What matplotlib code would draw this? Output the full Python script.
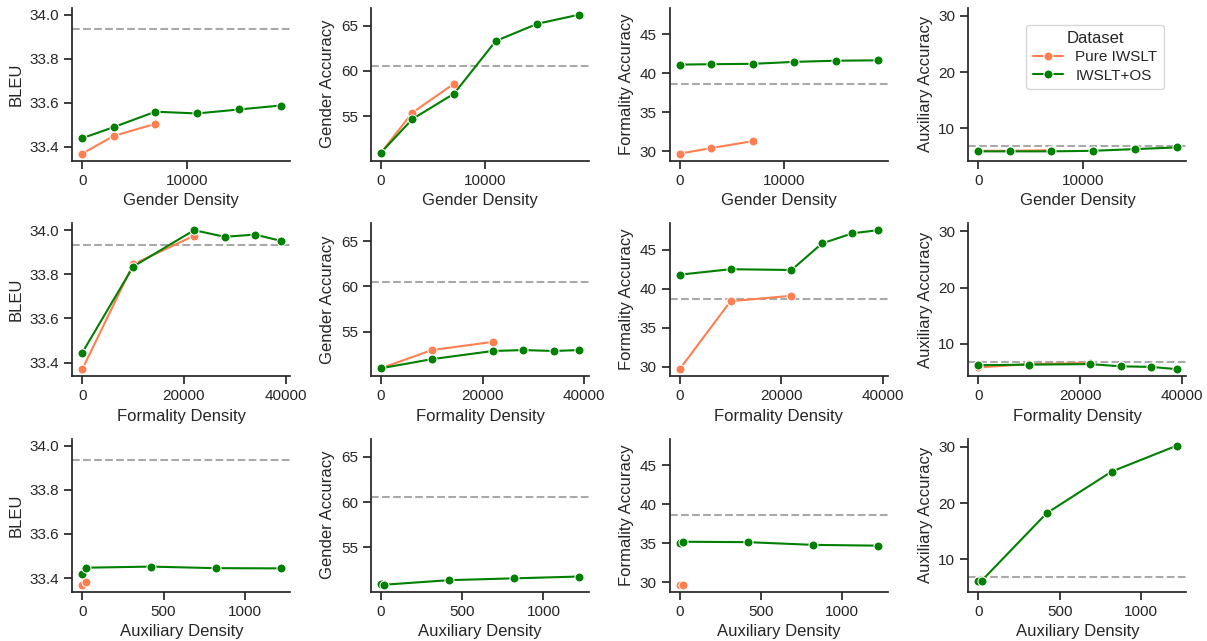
import matplotlib
matplotlib.use('Agg')
import matplotlib.pyplot as plt
import seaborn as sns

# x positions (densities) per row
gender_x_pure = [0, 3000, 7000]
gender_x_os = [0, 3000, 7000, 11000, 15000, 19000]
form_x_pure = [0, 10000, 22000]
form_x_os = [0, 10000, 22000, 28000, 34000, 39000]
aux_x_pure = [0, 20]
aux_x_os = [0, 20, 420, 820, 1220]

# BLEU
bleu_gender_pure = [33.37, 33.45, 33.505]
bleu_gender_os = [33.44, 33.49, 33.56, 33.552, 33.57, 33.588]
bleu_form_pure = [33.37, 33.845, 33.975]
bleu_form_os = [33.445, 33.835, 34.0, 33.97, 33.98, 33.952]
bleu_aux_pure = [33.37, 33.38]
bleu_aux_os = [33.42, 33.447, 33.452, 33.445, 33.444]

# Gender accuracy
gacc_gender_pure = [51.0, 55.4, 58.6]
gacc_gender_os = [51.0, 54.7, 57.5, 63.3, 65.2, 66.2]
gacc_form_pure = [51.0, 53.0, 53.9]
gacc_form_os = [51.0, 52.0, 52.9, 53.0, 52.9, 53.0]
gacc_aux_pure = [51.0, 51.0]
gacc_aux_os = [51.0, 50.9, 51.4, 51.6, 51.8]

# Formality accuracy
facc_gender_pure = [29.7, 30.4, 31.3]
facc_gender_os = [41.1, 41.15, 41.2, 41.45, 41.6, 41.65]
facc_form_pure = [29.7, 38.4, 39.1]
facc_form_os = [41.8, 42.5, 42.4, 45.8, 47.1, 47.5]
facc_aux_pure = [29.7, 29.7]
facc_aux_os = [35.1, 35.2, 35.15, 34.8, 34.7]

# Auxiliary accuracy
aacc_gender_pure = [6.0, 6.0, 6.1]
aacc_gender_os = [5.9, 5.9, 5.9, 6.0, 6.3, 6.6]
aacc_form_pure = [5.8, 6.4, 6.6]
aacc_form_os = [6.2, 6.3, 6.4, 6.0, 5.9, 5.5]
aacc_aux_pure = [6.1, 6.1]
aacc_aux_os = [6.2, 6.2, 18.2, 25.6, 30.2]

# baselines per metric (dashed lines)
baselines = [33.935, 60.5, 38.65, 6.8]

metric_labels = ['BLEU', 'Gender Accuracy', 'Formality Accuracy', 'Auxiliary Accuracy']
density_labels = ['Gender Density', 'Formality Density', 'Auxiliary Density']
series_labels = ['Pure IWSLT', 'IWSLT+OS']

xs = [(gender_x_pure, gender_x_os), (form_x_pure, form_x_os), (aux_x_pure, aux_x_os)]
ys = [
    [(bleu_gender_pure, bleu_gender_os), (gacc_gender_pure, gacc_gender_os),
     (facc_gender_pure, facc_gender_os), (aacc_gender_pure, aacc_gender_os)],
    [(bleu_form_pure, bleu_form_os), (gacc_form_pure, gacc_form_os),
     (facc_form_pure, facc_form_os), (aacc_form_pure, aacc_form_os)],
    [(bleu_aux_pure, bleu_aux_os), (gacc_aux_pure, gacc_aux_os),
     (facc_aux_pure, facc_aux_os), (aacc_aux_pure, aacc_aux_os)],
]

colors = ['coral', 'green']

sns.set_theme(style='ticks')
plt.rcParams['font.family'] = ['Liberation Sans', 'DejaVu Sans']

fig, axes = plt.subplots(3, 4, figsize=(12.07, 6.41), dpi=100, sharey='col', sharex='row')
fig.subplots_adjust(left=0.06, right=0.983, top=0.988, bottom=0.077, wspace=0.37, hspace=0.41)

for r in range(3):
    for c in range(4):
        ax = axes[r, c]
        for k in range(2):
            ax.plot(xs[r][k], ys[r][c][k], marker='o', color=colors[k], mec='white',
                    mew=0.75, ms=6.5, lw=1.5, label=series_labels[k])
        ax.axhline(baselines[c], color='darkgrey', ls='--', lw=1.5, zorder=0)
        ax.set_xlabel(density_labels[r])
        ax.set_ylabel(metric_labels[c])
        ax.tick_params(labelleft=True, labelbottom=True)
        sns.despine(ax=ax)

axes[0, 3].legend(title='Dataset', loc='upper right', bbox_to_anchor=(0.93, 0.94),
                  borderpad=0.4, labelspacing=0.3)

plt.savefig('out.png')
